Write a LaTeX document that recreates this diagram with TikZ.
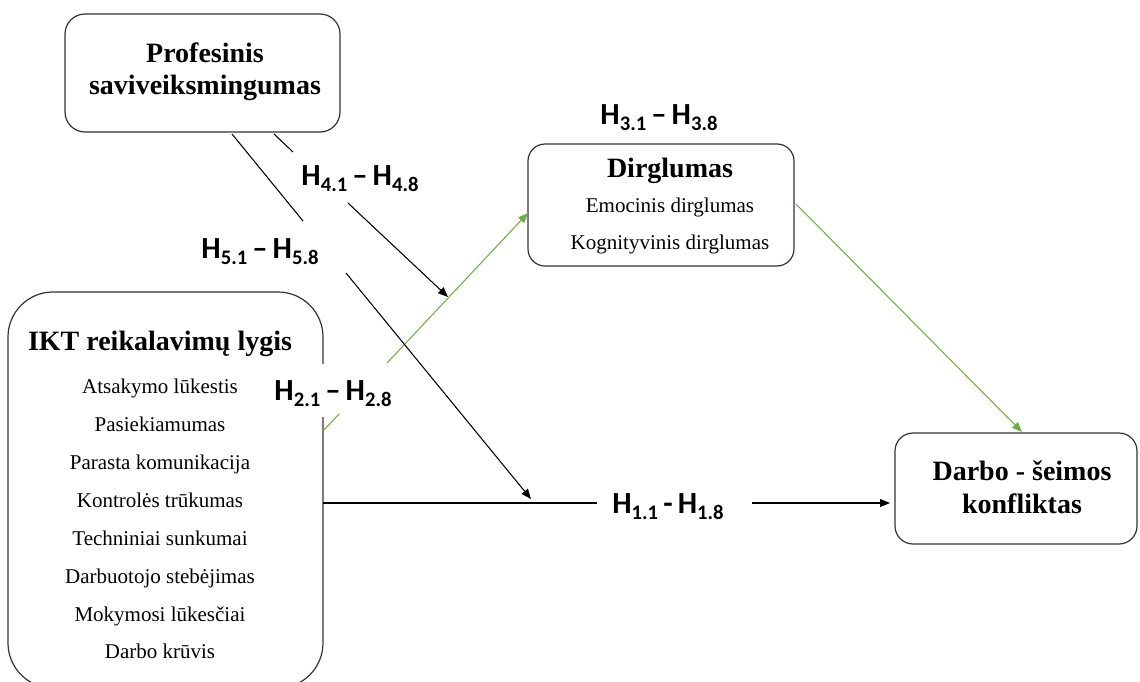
\documentclass[tikz,border=0pt]{standalone}
\usepackage{fontspec}
\setmainfont{Liberation Serif}
\newfontfamily\hfont{Carlito}
\usetikzlibrary{arrows.meta}
\definecolor{lgreen}{HTML}{70AD47}
\newcommand\sbs[1]{\raisebox{-4.8pt}{\fontsize{15.5}{15.5}\selectfont #1}}
\begin{document}
\begin{tikzpicture}[x=0.75pt,y=-0.75pt,
  box/.style={draw=black!80, line width=0.9pt, rounded corners=#1, inner sep=0pt},
  box/.default=15pt,
  head/.style={font=\fontsize{21}{25}\selectfont\bfseries, anchor=base, inner sep=0pt},
  item/.style={font=\fontsize{15.75}{19}\selectfont, anchor=base, inner sep=0pt},
  hyp/.style={font=\hfont\bfseries\fontsize{23}{27}\selectfont, anchor=base, inner sep=0pt},
  conn/.style={line width=0.8pt, black},
  gconn/.style={line width=0.8pt, lgreen},
  arr/.style={-{Triangle[length=7.5pt,width=6pt]}}
]
\clip (0,0) rectangle (1140,682);

% boxes
\node[box=15pt, minimum width=206.25pt, minimum height=88.5pt] (prof) at (202.5,73) {};
\node[box=12.75pt, minimum width=199.5pt, minimum height=91.5pt] (dirg) at (661,205) {};
\node[box=33.75pt, minimum width=236.25pt, minimum height=297pt] (ikt) at (165.5,490) {};
\node[box=13.5pt, minimum width=181.5pt, minimum height=83.25pt] (darbo) at (1016,488.5) {};

% box texts
\node[head] (profA) at (205,62) {Profesinis};
\node[head] (profB) at (205,94) {saviveiksmingumas};

\node[head] (dirgT) at (670,177) {Dirglumas};
\node[item] (dirgA) at (670,212) {Emocinis dirglumas};
\node[item] (dirgB) at (670,249) {Kognityvinis dirglumas};

\node[head] (iktT) at (160,350) {IKT reikalavimų lygis};
\node[item] (ikt1) at (160,393) {Atsakymo lūkestis};
\node[item] (ikt2) at (160,431) {Pasiekiamumas};
\node[item] (ikt3) at (160,469) {Parasta komunikacija};
\node[item] (ikt4) at (160,507) {Kontrolės trūkumas};
\node[item] (ikt5) at (160,545) {Techniniai sunkumai};
\node[item] (ikt6) at (160,583) {Darbuotojo stebėjimas};
\node[item] (ikt7) at (160,621) {Mokymosi lūkesčiai};
\node[item] (ikt8) at (160,658) {Darbo krūvis};

\node[head] (darboA) at (1022,480) {Darbo - šeimos};
\node[head] (darboB) at (1022,513) {konfliktas};

% hypothesis labels
\node[hyp] (h3) at (659,124) {H\sbs{3.1}\,–\,H\sbs{3.8}};
\node[hyp] (h4) at (360,185) {H\sbs{4.1}\,–\,H\sbs{4.8}};
\node[hyp] (h5) at (260,258) {H\sbs{5.1}\,–\,H\sbs{5.8}};
\node[hyp, fill=white, text height=27pt, text depth=13pt, inner xsep=2pt] (h2) at (333,400) {H\sbs{2.1}\,–\,H\sbs{2.8}};
\node[hyp] (h1) at (668,513) {H\sbs{1.1}\,-\,H\sbs{1.8}};

% connector coordinates
\coordinate (s5) at (232,134);
\coordinate (g5a) at (303,221);
\coordinate (g5b) at (346,273);
\coordinate (t5) at (531,499);

\coordinate (s4) at (274,134);
\coordinate (g4a) at (293,152);
\coordinate (g4b) at (348,203);
\coordinate (t4) at (448,297);

\coordinate (s2) at (323,431);
\coordinate (g2a) at (339,414);
\coordinate (g2b) at (387,363);
\coordinate (t2) at (528,213);

\coordinate (s3) at (796,204);
\coordinate (t3) at (1022,432);

\coordinate (s1) at (323,503);
\coordinate (g1a) at (597,503);
\coordinate (g1b) at (752,503);
\coordinate (t1) at (890,503);

% connectors
\draw[gconn] (s2) -- (g2a);
\draw[gconn,arr] (g2b) -- (t2);
\draw[gconn,arr] (s3) -- (t3);

\draw[conn] (s5) -- (g5a);
\draw[conn,arr] (g5b) -- (t5);
\draw[conn] (s4) -- (g4a);
\draw[conn,arr] (g4b) -- (t4);

\draw[conn] (s1) -- (g1a);
\draw[conn,arr] (g1b) -- (t1);
\end{tikzpicture}
\end{document}
